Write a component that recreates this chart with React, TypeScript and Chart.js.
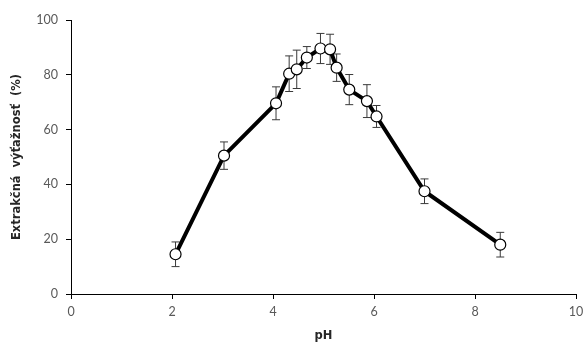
import React, { useEffect, useRef } from "react";
import { Chart, registerables } from "chart.js";

Chart.register(...registerables);

const phValues = [2.07, 3.03, 4.06, 4.32, 4.47, 4.67, 4.94, 5.13, 5.26, 5.51, 5.86, 6.05, 7.0, 8.5];
const yieldValues = [14.5, 50.5, 69.6, 80.4, 82.0, 86.3, 89.6, 89.3, 82.6, 74.6, 70.4, 64.8, 37.5, 18.0];
const errorValues = [4.5, 5.0, 6.0, 6.5, 7.0, 4.0, 5.5, 5.5, 5.0, 5.5, 6.0, 4.0, 4.5, 4.5];
const xTicks = [0, 2, 4, 6, 8, 10];
const yTicks = [0, 20, 40, 60, 80, 100];

const errorBarPlugin = {
  id: "errorBars",
  beforeDatasetsDraw(chart: any) {
    const { ctx, scales } = chart;
    const xs = scales.x;
    const ys = scales.y;
    ctx.save();
    ctx.strokeStyle = "#3a3a3a";
    ctx.lineWidth = 1;
    phValues.forEach((px, i) => {
      const x = xs.getPixelForValue(px);
      const yTop = ys.getPixelForValue(yieldValues[i] + errorValues[i]);
      const yBot = ys.getPixelForValue(yieldValues[i] - errorValues[i]);
      ctx.beginPath();
      ctx.moveTo(x, yTop);
      ctx.lineTo(x, yBot);
      ctx.moveTo(x - 4, yTop);
      ctx.lineTo(x + 4, yTop);
      ctx.moveTo(x - 4, yBot);
      ctx.lineTo(x + 4, yBot);
      ctx.stroke();
    });
    ctx.restore();
  },
};

export default function App() {
  const ref = useRef<HTMLCanvasElement>(null);
  useEffect(() => {
    const chart = new Chart(ref.current as HTMLCanvasElement, {
      type: "scatter",
      data: {
        datasets: [
          {
            data: phValues.map((x, i) => ({ x, y: yieldValues[i] })),
            showLine: true,
            borderColor: "#000000",
            borderWidth: 4,
            pointRadius: 5.5,
            pointBorderWidth: 1.2,
            pointBackgroundColor: "#ffffff",
            pointBorderColor: "#000000",
            tension: 0,
          },
        ],
      },
      plugins: [errorBarPlugin],
      options: {
        animation: false,
        responsive: false,
        layout: { padding: { top: 20, right: 8, left: 0, bottom: 0 } },
        plugins: { legend: { display: false }, tooltip: { enabled: false } },
        scales: {
          x: {
            type: "linear",
            min: 0,
            max: 10,
            afterBuildTicks: (s: any) => {
              s.ticks = xTicks.map((v) => ({ value: v }));
            },
            afterFit: (s: any) => {
              s.height = 55;
              s.paddingRight = 0;
              s.paddingLeft = 0;
            },
            grid: { display: true, drawOnChartArea: false, drawTicks: true, tickLength: 5, color: "#000000" },
            border: { display: true, color: "#000000", width: 1 },
            ticks: { color: "#595959", font: { family: "Lato", size: 12.5 }, padding: 5 },
            title: { display: true, text: "pH", color: "#262626", font: { family: "DejaVu Sans", size: 11.5, weight: "bold" }, padding: { top: 6, bottom: 6 } },
          },
          y: {
            type: "linear",
            min: 0,
            max: 100,
            afterBuildTicks: (s: any) => {
              s.ticks = yTicks.map((v) => ({ value: v }));
            },
            afterFit: (s: any) => {
              s.width = 71;
            },
            grid: { display: true, drawOnChartArea: false, drawTicks: true, tickLength: 5, color: "#000000" },
            border: { display: true, color: "#000000", width: 1 },
            ticks: { color: "#595959", font: { family: "Lato", size: 12.5 }, padding: 8 },
            title: { display: true, text: "Extrakčná  výťažnosť  (%)", color: "#262626", font: { family: "DejaVu Sans", size: 11.5, weight: "bold" }, padding: { top: 10, bottom: 4 } },
          },
        },
      },
    });
    return () => chart.destroy();
  }, []);
  return (
    <div style={{ position: "fixed", left: 0, top: 0, width: 584, height: 349, background: "#ffffff" }}>
      <canvas ref={ref} width={584} height={349} />
    </div>
  );
}
